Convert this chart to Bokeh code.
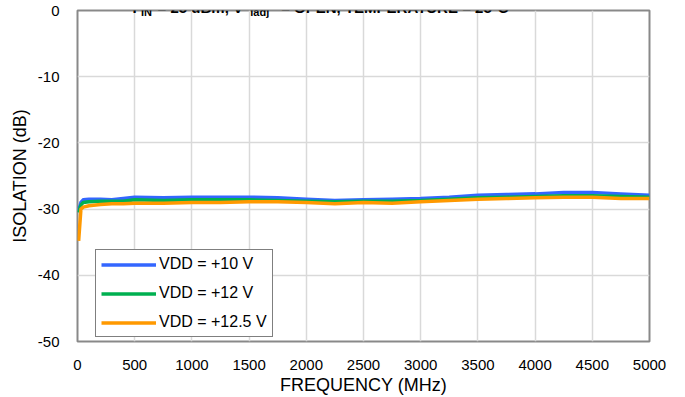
from bokeh.plotting import figure
from bokeh.models import FixedTicker, Legend, LegendItem, Label, Range1d
from bokeh.embed import file_html
from bokeh.resources import INLINE

freq = [10, 30, 50, 100, 200, 300, 400, 500, 750, 1000, 1250, 1500, 1750, 2000,
        2250, 2500, 2750, 3000, 3250, 3500, 3750, 4000, 4250, 4500, 4750, 5000]
vdd10 = [-30.2, -29.0, -28.6, -28.5, -28.5, -28.6, -28.4, -28.2, -28.3, -28.2, -28.2, -28.2, -28.3,
         -28.5, -28.7, -28.6, -28.5, -28.4, -28.2, -27.9, -27.8, -27.7, -27.5, -27.5, -27.7, -27.9]
vdd12 = [-30.5, -29.4, -29.0, -28.9, -28.8, -28.8, -28.8, -28.6, -28.7, -28.6, -28.6, -28.6, -28.7,
         -28.8, -28.9, -28.8, -28.8, -28.7, -28.5, -28.3, -28.2, -28.1, -28.0, -28.0, -28.1, -28.2]
vdd125 = [-34.8, -30.0, -29.7, -29.5, -29.3, -29.2, -29.2, -29.1, -29.1, -29.0, -29.0, -28.9, -28.9,
          -29.0, -29.2, -29.0, -29.1, -28.9, -28.7, -28.5, -28.4, -28.3, -28.2, -28.2, -28.4, -28.4]

series_names = ["VDD = +10 V", "VDD = +12 V", "VDD = +12.5 V"]
series_colors = ["#3366FF", "#00B050", "#FF9900"]

x_ticks = [0, 500, 1000, 1500, 2000, 2500, 3000, 3500, 4000, 4500, 5000]
x_tick_labels = ["0", "500", "1000", "1500", "2000", "2500", "3000", "3500", "4000", "4500", "5000"]
y_ticks = [0, -10, -20, -30, -40, -50]
y_tick_labels = ["0", "-10", "-20", "-30", "-40", "-50"]

FONT = "Liberation Sans"

p = figure(width=685, height=397, output_backend="svg", toolbar_location=None,
           x_range=Range1d(0, 5000), y_range=Range1d(-50, 0),
           min_border_left=77, min_border_right=36, min_border_top=10, min_border_bottom=52)
p.background_fill_color = "white"
p.border_fill_color = "white"
p.outline_line_color = "#898989"
p.outline_line_width = 2

for ax in (p.xaxis[0], p.yaxis[0]):
    ax.axis_line_color = None
    ax.major_tick_line_color = None
    ax.minor_tick_line_color = None
    ax.major_label_text_font = FONT
    ax.major_label_text_font_size = "15px"
    ax.major_label_text_color = "black"
    ax.axis_label_text_font = FONT
    ax.axis_label_text_font_size = "18px"
    ax.axis_label_text_font_style = "normal"
    ax.axis_label_text_color = "black"

p.xaxis.ticker = FixedTicker(ticks=x_ticks)
p.xaxis.major_label_overrides = dict(zip(x_ticks, x_tick_labels))
p.yaxis.ticker = FixedTicker(ticks=y_ticks)
p.yaxis.major_label_overrides = dict(zip(y_ticks, y_tick_labels))
p.xaxis.axis_label = "FREQUENCY (MHz)"
p.yaxis.axis_label = "ISOLATION (dB)"
p.xaxis.major_label_standoff = 12
p.yaxis.major_label_standoff = 12
p.xaxis.axis_label_standoff = 2
p.yaxis.axis_label_standoff = 5

p.xgrid.grid_line_color = "#D9D9D9"
p.ygrid.grid_line_color = "#D9D9D9"
p.xgrid.grid_line_width = 1.5
p.ygrid.grid_line_width = 1.5

renderers = []
for ys, c in zip([vdd10, vdd12, vdd125], series_colors):
    r = p.line(freq, ys, line_color=c, line_width=3.5, line_join="round")
    renderers.append(r)

legend = Legend(items=[LegendItem(label=n, renderers=[r]) for n, r in zip(series_names, renderers)],
                location=(18, 4), orientation="vertical")
legend.label_text_font = FONT
legend.label_text_font_size = "16px"
legend.label_text_color = "black"
legend.border_line_color = "black"
legend.border_line_width = 1
legend.background_fill_color = "white"
legend.background_fill_alpha = 1
legend.glyph_width = 55
legend.glyph_height = 17
legend.label_height = 17
legend.label_standoff = 3
legend.spacing = 11
legend.padding = 5
legend.margin = 0
p.add_layout(legend, "center")

# Title (partly cut off at the top edge, as in the reference)
title_parts = [
    ("P", 480, 3, "15px"),
    ("IN", 555, -1, "11px"),
    ("= 25 dBm, V", 700, 3, "15px"),
    ("ladj", 1510, -1, "11px"),
    ("= OPEN, TEMPERATURE = 25°C", 1780, 3, "15px"),
]
for txt, xpos, yoff, fs in title_parts:
    p.add_layout(Label(x=xpos, y=0, y_offset=yoff, text=txt, text_font=FONT,
                       text_font_size=fs, text_font_style="bold", text_color="black",
                       text_align="left", text_baseline="alphabetic"))

open("out.html", "w").write(file_html(p, INLINE))
